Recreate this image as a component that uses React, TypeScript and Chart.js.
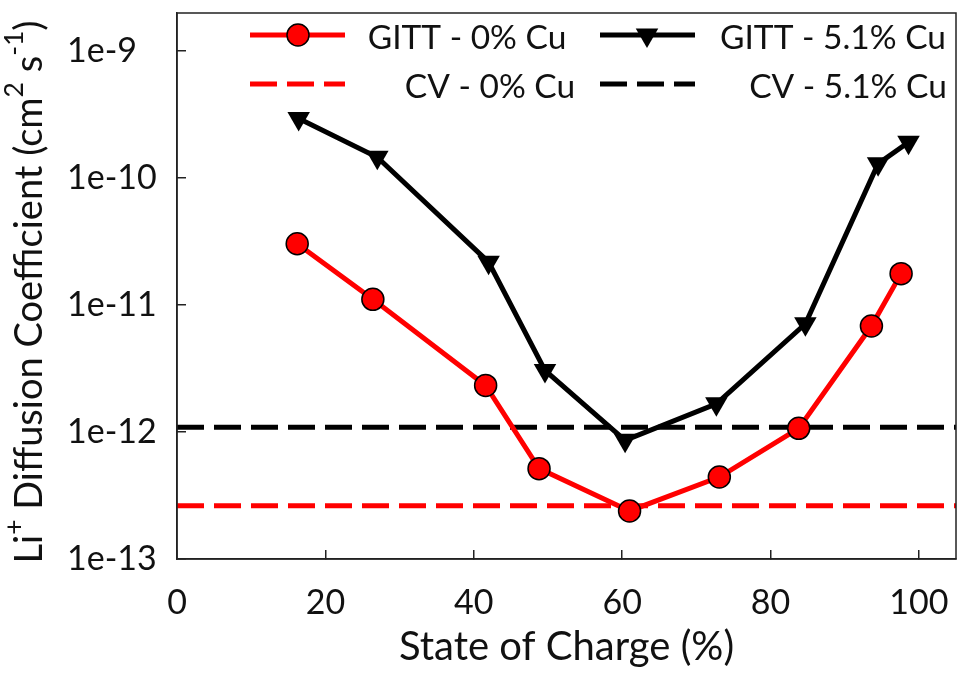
import { useEffect, useRef } from "react";
import { Chart, registerables } from "chart.js";
Chart.register(...registerables);

// values
const socGitt0 = [16.2, 26.4, 41.6, 48.8, 61.0, 73.1, 83.8, 93.6, 97.6];
const dGitt0 = [3.04e-11, 1.11e-11, 2.33e-12, 5.15e-13, 2.39e-13, 4.42e-13, 1.07e-12, 6.84e-12, 1.77e-11];
const socGitt51 = [16.4, 27.0, 42.0, 49.6, 60.4, 72.7, 84.7, 94.5, 98.6];
const dGitt51 = [2.95e-10, 1.46e-10, 2.18e-11, 3.06e-12, 8.6e-13, 1.67e-12, 7.13e-12, 1.3e-10, 1.92e-10];
const dCv0 = 2.63e-13;
const dCv51 = 1.09e-12;

const xRange = [0, 105];
const yRange = [1e-13, 2e-9];
const xTicks = [0, 20, 40, 60, 80, 100];
const yTicks = [1e-13, 1e-12, 1e-11, 1e-10, 1e-9];
const yTickLabels = ["1e-13", "1e-12", "1e-11", "1e-10", "1e-9"];
const seriesNames = ["GITT - 0% Cu", "GITT - 5.1% Cu", "CV - 0% Cu", "CV - 5.1% Cu"];

const RED = "#ff0000";
const BLACK = "#000000";
const FONT = "Lato, 'Open Sans', sans-serif";
const DASH = [27, 10];

const fixAxisPadding = (scale: any) => {
  scale.paddingTop = 0;
  scale.paddingBottom = 0;
  scale.paddingLeft = 0;
  scale.paddingRight = 0;
};

const downTriangle = (ctx: CanvasRenderingContext2D, x: number, y: number, r: number) => {
  ctx.beginPath();
  ctx.moveTo(x, y + r);
  ctx.lineTo(x - r * 0.866, y - r * 0.5);
  ctx.lineTo(x + r * 0.866, y - r * 0.5);
  ctx.closePath();
  ctx.fill();
};

// box round the plot + the two-column legend
const framePlugin = {
  id: "frame",
  afterDraw(chart: any) {
    const { ctx, chartArea } = chart;
    ctx.save();
    ctx.strokeStyle = "#222";
    ctx.lineWidth = 1.5;
    ctx.strokeRect(chartArea.left, chartArea.top, chartArea.right - chartArea.left, chartArea.bottom - chartArea.top);

    const rows = [35, 84];
    const cols = [250, 600];
    const colors = [RED, BLACK];
    const textCenters = [
      [467, 833],
      [490, 848],
    ];
    ctx.font = `33.5px ${FONT}`;
    ctx.fillStyle = "#111";
    ctx.textAlign = "center";
    ctx.textBaseline = "middle";
    for (let r = 0; r < 2; r++) {
      for (let c = 0; c < 2; c++) {
        const y = rows[r];
        const x0 = cols[c];
        ctx.strokeStyle = colors[c];
        ctx.lineWidth = 5;
        ctx.setLineDash(r === 0 ? [] : DASH);
        ctx.beginPath();
        ctx.moveTo(x0, y);
        ctx.lineTo(x0 + 95, y);
        ctx.stroke();
        ctx.setLineDash([]);
        if (r === 0 && c === 0) {
          ctx.fillStyle = RED;
          ctx.beginPath();
          ctx.arc(x0 + 48, y, 11, 0, Math.PI * 2);
          ctx.fill();
          ctx.strokeStyle = BLACK;
          ctx.lineWidth = 1.5;
          ctx.stroke();
        }
        if (r === 0 && c === 1) {
          ctx.fillStyle = BLACK;
          downTriangle(ctx, x0 + 47, y, 13);
        }
        ctx.fillStyle = "#111";
        ctx.fillText(seriesNames[r * 2 + c], textCenters[r][c], y + 3);
      }
    }
    ctx.restore();
  },
};

// rotated y title with superscripts
const yTitleParts: [string, boolean][] = [
  ["Li", false],
  ["+", true],
  [" Diffusion Coefficient (cm", false],
  ["2", true],
  [" s", false],
  ["-1", true],
  [")", false],
];

const yTitlePlugin = {
  id: "yTitle",
  afterDraw(chart: any) {
    const { ctx } = chart;
    const main = 38;
    const sup = 26.5;
    ctx.save();
    ctx.translate(42, 292);
    ctx.rotate(-Math.PI / 2);
    ctx.fillStyle = "#111";
    ctx.textBaseline = "alphabetic";
    ctx.textAlign = "left";
    let total = 0;
    for (const [t, s] of yTitleParts) {
      ctx.font = `${s ? sup : main}px ${FONT}`;
      total += ctx.measureText(t).width;
    }
    let x = -total / 2;
    for (const [t, s] of yTitleParts) {
      ctx.font = `${s ? sup : main}px ${FONT}`;
      ctx.fillText(t, x, s ? -19 : 0);
      x += ctx.measureText(t).width;
    }
    ctx.restore();
  },
};

const DiffusionChart = () => {
  const canvasRef = useRef<HTMLCanvasElement | null>(null);

  useEffect(() => {
    if (!canvasRef.current) return;
    const ctx = canvasRef.current.getContext("2d");
    if (!ctx) return;

    const chart = new Chart(ctx, {
      type: "line",
      data: {
        datasets: [
          {
            label: seriesNames[0],
            data: socGitt0.map((x, i) => ({ x, y: dGitt0[i] })),
            borderColor: RED,
            backgroundColor: RED,
            borderWidth: 5,
            pointRadius: 11,
            pointBackgroundColor: RED,
            pointBorderColor: BLACK,
            pointBorderWidth: 1.5,
            order: 1,
          },
          {
            label: seriesNames[1],
            data: socGitt51.map((x, i) => ({ x, y: dGitt51[i] })),
            borderColor: BLACK,
            backgroundColor: BLACK,
            borderWidth: 5,
            pointStyle: "triangle",
            pointRotation: 180,
            pointRadius: 13,
            pointBackgroundColor: BLACK,
            pointBorderColor: BLACK,
            pointBorderWidth: 0,
            order: 2,
          },
          {
            label: seriesNames[2],
            data: xRange.map((x) => ({ x, y: dCv0 })),
            borderColor: RED,
            borderWidth: 5,
            borderDash: DASH,
            pointRadius: 0,
            order: 3,
          },
          {
            label: seriesNames[3],
            data: xRange.map((x) => ({ x, y: dCv51 })),
            borderColor: BLACK,
            borderWidth: 5,
            borderDash: DASH,
            pointRadius: 0,
            order: 3,
          },
        ],
      },
      options: {
        animation: false,
        responsive: true,
        maintainAspectRatio: false,
        layout: { padding: { left: 67, right: 7, top: 12, bottom: 0 } },
        plugins: {
          legend: { display: false },
          tooltip: { enabled: false },
        },
        scales: {
          x: {
            type: "linear",
            min: xRange[0],
            max: xRange[1],
            afterBuildTicks: (scale: any) => {
              scale.ticks = xTicks.map((value) => ({ value }));
            },
            afterFit: (scale: any) => {
              scale.height = 118;
              fixAxisPadding(scale);
            },
            grid: {
              drawOnChartArea: false,
              drawTicks: true,
              tickLength: -9,
              color: "#222",
              lineWidth: 1.5,
            },
            border: { display: true, color: "#222", width: 1.5 },
            ticks: {
              padding: 33,
              color: "#111",
              font: { family: FONT, size: 34 },
              maxRotation: 0,
            },
            title: {
              display: true,
              text: "State of Charge (%)",
              color: "#111",
              font: { family: FONT, size: 40 },
              padding: { top: 0, bottom: 6 },
            },
          },
          y: {
            type: "logarithmic",
            min: yRange[0],
            max: yRange[1],
            afterBuildTicks: (scale: any) => {
              scale.ticks = yTicks.map((value) => ({ value }));
            },
            afterFit: (scale: any) => {
              scale.width = 110;
              fixAxisPadding(scale);
            },
            grid: {
              drawOnChartArea: false,
              drawTicks: true,
              tickLength: -9,
              color: "#222",
              lineWidth: 1.5,
            },
            border: { display: true, color: "#222", width: 1.5 },
            ticks: {
              crossAlign: "far",
              color: "#111",
              font: { family: FONT, size: 34 },
              callback: (value: any) => {
                const i = yTicks.findIndex((t) => Math.abs(t - value) / t < 1e-6);
                return i >= 0 ? yTickLabels[i] : "";
              },
            },
          },
        },
      },
      plugins: [framePlugin, yTitlePlugin],
    });

    document.fonts?.load(`34px Lato`).then(() => chart.update()).catch(() => {});

    return () => chart.destroy();
  }, []);

  return (
    <div style={{ position: "absolute", left: 0, top: 0, width: "969px", height: "677px", background: "#fff" }}>
      <canvas ref={canvasRef}></canvas>
    </div>
  );
};

export default function App() {
  return <DiffusionChart />;
}
